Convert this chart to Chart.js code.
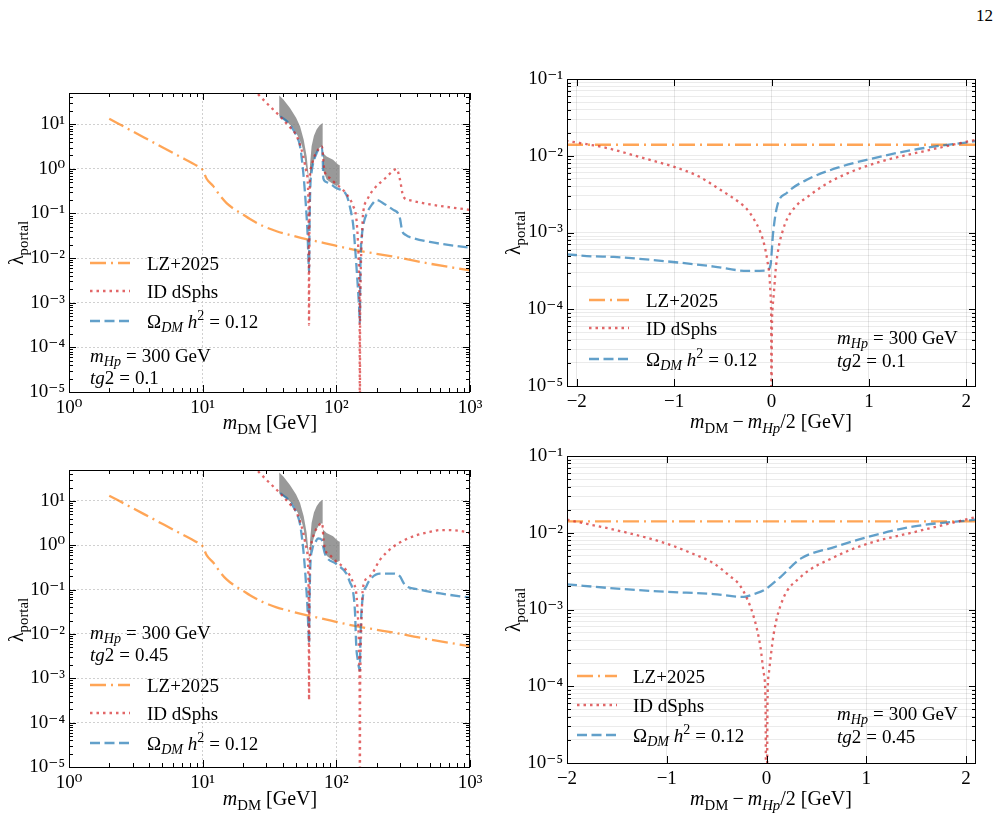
<!DOCTYPE html>
<html lang="en">
<head>
  <meta charset="UTF-8" />
  <title>Portal coupling limits</title>
  <script src="https://cdn.jsdelivr.net/npm/chart.js"></script>
  <style>
    body {
      margin: 0;
      background: #fff;
      font-family: "Liberation Serif", "DejaVu Serif", serif;
      color: #000;
    }
    #fig {
      position: relative;
      width: 1007px;
      height: 816px;
      overflow: hidden;
    }
    canvas { position: absolute; }
    .txt {
      position: absolute;
      font-size: 19px;
      line-height: 1;
      white-space: nowrap;
    }
    .ax { font-size: 20px; }
    .mid { transform: translate(-50%, -50%); }
    .lft { transform: translateY(-50%); }
    .rot { transform: translate(-50%, -50%) rotate(-90deg); }
    sub { font-size: 0.74em; vertical-align: -0.32em; line-height: 0; }
    sup { font-size: 0.74em; vertical-align: 0.5em; line-height: 0; }
    .eq { margin: 0 5px; }
    .op { margin: 0 4px; }
    .key { position: absolute; }
  </style>
</head>
<body>
<div id="fig">
  <div class="txt" style="left:976px; top:7px; font-size:17px;">12</div>

  <canvas id="p1" width="490" height="380" style="left:0; top:60px;"></canvas>
  <canvas id="p2" width="517" height="380" style="left:490px; top:60px;"></canvas>
  <canvas id="p3" width="490" height="376" style="left:0; top:440px;"></canvas>
  <canvas id="p4" width="517" height="376" style="left:490px; top:440px;"></canvas>

  <!-- axis titles -->
  <div class="txt ax mid" style="left:270px; top:422px;"><i>m</i><sub>DM</sub> [GeV]</div>
  <div class="txt ax mid" style="left:270px; top:798px;"><i>m</i><sub>DM</sub> [GeV]</div>
  <div class="txt ax mid" style="left:771px; top:421px;"><i>m</i><sub>DM</sub><span class="op">−</span><i>m</i><sub><i>Hp</i></sub>/2 [GeV]</div>
  <div class="txt ax mid" style="left:771px; top:798px;"><i>m</i><sub>DM</sub><span class="op">−</span><i>m</i><sub><i>Hp</i></sub>/2 [GeV]</div>
  <div class="txt ax rot" style="left:16px; top:243px;">λ<sub>portal</sub></div>
  <div class="txt ax rot" style="left:16px; top:620px;">λ<sub>portal</sub></div>
  <div class="txt ax rot" style="left:513px; top:233px;">λ<sub>portal</sub></div>
  <div class="txt ax rot" style="left:513px; top:610px;">λ<sub>portal</sub></div>

  <!-- benchmark labels -->
  <div class="txt lft" style="left:90px; top:355px;"><i>m</i><sub><i>Hp</i></sub><span class="eq">=</span>300 GeV</div>
  <div class="txt lft" style="left:90px; top:377px;"><i>tg</i>2<span class="eq">=</span>0.1</div>
  <div class="txt lft" style="left:837px; top:337px;"><i>m</i><sub><i>Hp</i></sub><span class="eq">=</span>300 GeV</div>
  <div class="txt lft" style="left:837px; top:360px;"><i>tg</i>2<span class="eq">=</span>0.1</div>
  <div class="txt lft" style="left:90px; top:632px;"><i>m</i><sub><i>Hp</i></sub><span class="eq">=</span>300 GeV</div>
  <div class="txt lft" style="left:90px; top:654px;"><i>tg</i>2<span class="eq">=</span>0.45</div>
  <div class="txt lft" style="left:837px; top:713px;"><i>m</i><sub><i>Hp</i></sub><span class="eq">=</span>300 GeV</div>
  <div class="txt lft" style="left:837px; top:736px;"><i>tg</i>2<span class="eq">=</span>0.45</div>
</div>

<script>
  // ---- tick values ----
  const leftXMajor = [1, 10, 100, 1000];
  const leftYMajor = [1e-5, 1e-4, 1e-3, 1e-2, 1e-1, 1, 10];
  const rightXMajor = [-2, -1, 0, 1, 2];
  const rightYMajor = [1e-5, 1e-4, 1e-3, 1e-2, 1e-1];

  // ---- left panels: m_DM [GeV] vs lambda ----
  const lzMass   = [2, 3, 4.5, 6.5, 9.5, 10, 10.7, 12, 13.5, 15.1, 16.9, 20, 22.6, 28, 35.7, 45, 61.7, 80, 106, 150, 200, 300, 500, 1000];
  const lzLambda = [13.2, 6.9, 3.6, 2.0, 1.07, 0.95, 0.6, 0.41, 0.25, 0.17, 0.13, 0.095, 0.075, 0.053, 0.04, 0.033, 0.026, 0.022, 0.018, 0.0145, 0.0125, 0.0101, 0.0075, 0.0053];

  // tg2 = 0.1
  const idMassA   = [24, 30, 37.9, 45, 49, 53.5, 56.6, 59.2, 61.7, 62.2, 62.5, 62.8, 63.3, 65, 67.2, 70, 73.2, 77.7, 79, 79.8, 82, 89.6, 100, 112, 125, 134, 141, 145, 147, 148.5, 149.5, 150, 150.5, 151.5, 153, 155, 158, 170, 189, 230, 274, 282, 299, 317, 350, 501, 1000];
  const idLambdaA = [60, 30, 15, 8.5, 6.4, 3.5, 1.9, 0.96, 0.25, 0.02, 3.2e-4, 0.02, 0.5, 1.1, 1.6, 2.2, 2.7, 3.2, 2.6, 1.6, 0.85, 0.62, 0.45, 0.34, 0.22, 0.145, 0.08, 0.025, 0.009, 0.002, 2e-4, 1e-7, 2e-4, 0.002, 0.009, 0.025, 0.087, 0.2, 0.34, 0.6, 0.96, 1.0, 0.58, 0.24, 0.2, 0.16, 0.12];
  const omegaMassA   = [38, 43.7, 50.5, 53.5, 56.6, 59.2, 60.8, 62, 62.5, 63, 63.8, 65.5, 67.2, 71, 75.4, 78, 79.2, 80, 85, 100, 119, 126, 134, 138, 143, 148, 150, 151, 153, 155, 160, 169, 185, 200, 224, 267, 290, 300, 310, 330, 376, 500, 1000];
  const omegaLambdaA = [15, 10.7, 5.4, 3.2, 0.81, 0.15, 0.04, 0.008, 0.005, 0.05, 0.35, 0.9, 1.36, 2.2, 3.0, 3.1, 1.5, 0.6, 0.5, 0.37, 0.26, 0.145, 0.052, 0.018, 0.004, 0.0008, 3.5e-4, 0.004, 0.018, 0.031, 0.06, 0.1, 0.16, 0.2, 0.17, 0.12, 0.1, 0.075, 0.042, 0.033, 0.028, 0.023, 0.017];

  // tg2 = 0.45
  const idMassB   = [24, 30, 37.9, 45, 49, 53.5, 56.6, 59.2, 61.7, 62.2, 62.5, 62.8, 63.3, 65, 67.2, 70, 73.2, 77.7, 79, 79.8, 82, 89.6, 100, 112, 125, 134, 141, 145, 147, 148.5, 149.5, 150, 150.5, 151.5, 153, 155, 158, 178, 212, 267, 330, 400, 500, 596, 700, 850, 1000];
  const idLambdaB = [60, 30, 15, 8.5, 6.4, 3.5, 1.9, 0.96, 0.25, 0.02, 3.2e-4, 0.02, 0.5, 1.1, 1.6, 2.2, 2.7, 3.2, 2.6, 1.6, 0.85, 0.6, 0.43, 0.33, 0.22, 0.14, 0.083, 0.025, 0.009, 0.002, 2e-4, 1e-7, 2e-4, 0.002, 0.009, 0.03, 0.11, 0.2, 0.47, 0.93, 1.35, 1.7, 2.0, 2.2, 2.2, 2.1, 1.9];
  const omegaMassB   = [38, 43.7, 50.5, 53.5, 56.6, 59.2, 60.8, 62, 62.5, 63, 63.8, 66, 70, 73, 76, 78, 80, 82, 100, 119, 126, 134, 138, 141, 145, 148, 150, 151, 153, 158, 168, 178, 212, 267, 299, 315, 326, 422, 600, 1000];
  const omegaLambdaB = [15, 10.7, 5.3, 3.0, 0.8, 0.15, 0.04, 0.01, 0.006, 0.05, 0.3, 0.8, 1.2, 1.44, 1.4, 1.3, 0.9, 0.66, 0.38, 0.23, 0.15, 0.083, 0.03, 0.0052, 0.0025, 0.0017, 0.0015, 0.005, 0.02, 0.07, 0.12, 0.166, 0.23, 0.23, 0.2, 0.15, 0.128, 0.1, 0.082, 0.066];

  // grey band outline (upper edge left to right, then lower edge back)
  const bandMass   = [37.4, 40, 45, 50, 53.5, 57, 60, 61.5, 62.5, 63.5, 65.3, 68, 71.2, 75, 79, 79, 84.6, 94.5, 103, 106, 106, 100, 92, 84.6, 80, 79.2, 75, 71.2, 68, 65.3, 63.5, 62.5, 61.5, 59.2, 57, 55, 50, 47.6, 43, 37.4];
  const bandLambda = [44, 36, 23, 14, 9, 4.5, 1.9, 0.9, 0.49, 1.2, 3.2, 5.5, 7.6, 9.5, 10.7, 2.3, 1.9, 1.6, 1.25, 1.2, 0.45, 0.41, 0.48, 0.58, 0.9, 3.2, 3.0, 2.3, 1.5, 0.96, 0.6, 0.49, 0.7, 1.14, 2.3, 3.5, 6.5, 8.3, 11, 15];

  // ---- right panels: m_DM - m_Hp/2 [GeV] vs lambda ----
  const lzOffsetC = [-2.1, -1, 0, 1, 2.1];
  const lzLambdaC = [0.0139, 0.0139, 0.0139, 0.0139, 0.0139];
  const idOffsetC = [-2.11, -1.69, -1.3, -1.006, -0.75, -0.525, -0.337, -0.25, -0.182, -0.113, -0.07, -0.044, -0.02, -0.008, -0.003, 0, 0.003, 0.01, 0.024, 0.045, 0.075, 0.11, 0.16, 0.25, 0.368, 0.55, 0.78, 1.122, 1.637, 2.1];
  const idLambdaC = [0.0157, 0.0126, 0.0092, 0.0072, 0.0054, 0.0036, 0.0025, 0.002, 0.0015, 0.001, 6.6e-4, 4.4e-4, 2.6e-4, 1.4e-4, 6e-5, 1e-7, 3e-5, 1e-4, 1.6e-4, 3.5e-4, 6.6e-4, 0.001, 0.0015, 0.0022, 0.0029, 0.0042, 0.0059, 0.0084, 0.012, 0.0162];
  const omegaOffsetC = [-2.1, -1.85, -1.62, -1.07, -0.59, -0.25, -0.045, -0.01, 0.017, 0.058, 0.16, 0.368, 0.712, 0.986, 1.466, 2.1];
  const omegaLambdaC = [5.2e-4, 4.9e-4, 4.8e-4, 4.2e-4, 3.6e-4, 3.16e-4, 3.2e-4, 3.8e-4, 1e-3, 0.0022, 0.0033, 0.0049, 0.0072, 0.0089, 0.012, 0.0155];

  const lzOffsetD = [-2, -1, 0, 1, 2.1];
  const lzLambdaD = [0.0141, 0.0141, 0.0141, 0.0141, 0.0141];
  const idOffsetD = [-2, -1.368, -1, -0.75, -0.53, -0.38, -0.26, -0.128, -0.06, -0.027, -0.01, 0, 0.01, 0.023, 0.073, 0.158, 0.342, 0.677, 1.013, 1.482, 2.1];
  const idLambdaD = [0.0148, 0.0098, 0.0072, 0.0054, 0.004, 0.0028, 0.002, 8e-4, 3.2e-4, 1.46e-4, 6e-5, 1e-7, 6e-5, 1.46e-4, 4.9e-4, 0.0013, 0.00265, 0.0048, 0.0072, 0.0102, 0.016];
  const omegaOffsetD = [-2, -1.5, -1, -0.53, -0.228, -0.12, -0.027, 0.14, 0.342, 0.68, 1.013, 1.48, 2.1];
  const omegaLambdaD = [0.00213, 0.00187, 0.0017, 0.00159, 0.00146, 0.0016, 0.00178, 0.00265, 0.0046, 0.0065, 0.0088, 0.0121, 0.0148];

  // ---- styles ----
  const ORANGE = 'rgba(255,127,14,0.7)';
  const RED = 'rgba(214,39,40,0.7)';
  const BLUE = 'rgba(31,119,180,0.7)';
  const GREY = 'rgba(128,128,128,0.8)';
  const DASHDOT = [16, 5, 2, 5];
  const DOTTED = [2.5, 4];
  const DASHED = [10, 4.5];
  const LW = 2.3;
  const FONT = { family: '"Liberation Serif", "DejaVu Serif", serif', size: 19 };

  const SUP = { '-': '⁻', '0': '⁰', '1': '¹', '2': '²', '3': '³', '4': '⁴', '5': '⁵' };
  function powLabel(v) {
    const e = Math.round(Math.log10(v));
    return '10' + String(e).split('').map(c => SUP[c]).join('');
  }

  // majors plus 2..9 minors, up to max
  function logTicks(majors, max) {
    const out = [];
    majors.forEach(m => {
      for (let k = 1; k < 10; k++) {
        const v = m * k;
        if (v <= max * 1.0001) out.push({ value: v, major: k === 1 });
      }
    });
    return out;
  }

  function pts(xs, ys) {
    return xs.map((x, i) => ({ x: x, y: ys[i] }));
  }

  function curve(xs, ys, color, dash) {
    return {
      data: pts(xs, ys),
      borderColor: color,
      borderWidth: LW,
      borderDash: dash,
      borderCapStyle: 'butt',
      pointRadius: 0,
      fill: false,
      cubicInterpolationMode: 'monotone'
    };
  }

  function band(xs, ys) {
    return {
      data: pts(xs, ys),
      borderColor: 'rgba(0,0,0,0)',
      borderWidth: 0,
      backgroundColor: GREY,
      pointRadius: 0,
      tension: 0,
      fill: 'shape'
    };
  }

  // frame + inward ticks on all four sides
  const frameTicks = {
    id: 'frameTicks',
    afterDraw(chart) {
      const { ctx, chartArea: a, scales } = chart;
      ctx.save();
      ctx.strokeStyle = '#000';
      ctx.lineWidth = 1;
      ctx.setLineDash([]);
      ctx.beginPath();
      scales.x.ticks.forEach(t => {
        const px = Math.round(scales.x.getPixelForValue(t.value)) + 0.5;
        if (px < a.left - 1 || px > a.right + 1) return;
        const len = t.major ? 7 : 4;
        ctx.moveTo(px, a.bottom); ctx.lineTo(px, a.bottom - len);
        ctx.moveTo(px, a.top); ctx.lineTo(px, a.top + len);
      });
      scales.y.ticks.forEach(t => {
        const py = Math.round(scales.y.getPixelForValue(t.value)) + 0.5;
        if (py < a.top - 1 || py > a.bottom + 1) return;
        const len = t.major ? 7 : 4;
        ctx.moveTo(a.left, py); ctx.lineTo(a.left + len, py);
        ctx.moveTo(a.right, py); ctx.lineTo(a.right - len, py);
      });
      ctx.stroke();
      ctx.strokeRect(Math.round(a.left) + 0.5, Math.round(a.top) + 0.5, Math.round(a.width) - 1, Math.round(a.height));
      ctx.restore();
    }
  };

  function leftPanel(id, datasets, padTop, xHeight) {
    new Chart(document.getElementById(id), {
      type: 'line',
      data: { datasets: datasets },
      options: {
        responsive: false,
        animation: false,
        events: [],
        layout: { padding: { top: padTop, right: 20, left: 0, bottom: 0 } },
        scales: {
          x: {
            type: 'logarithmic', min: 1, max: 1000,
            afterFit: s => { s.height = xHeight; },
            afterBuildTicks: s => { s.ticks = logTicks(leftXMajor, 1000); },
            ticks: { autoSkip: false, maxRotation: 0, padding: 5, color: '#000', font: FONT,
                     callback: (v, i, t) => t[i].major ? powLabel(v) : '' },
            grid: { drawTicks: false, lineWidth: 0.8,
                    color: c => (c.tick && c.tick.major) ? '#c4c4c4' : 'rgba(0,0,0,0)' },
            border: { display: false, dash: [2, 2] }
          },
          y: {
            type: 'logarithmic', min: 1e-5, max: 50,
            afterFit: s => { s.width = 69; },
            afterBuildTicks: s => { s.ticks = logTicks(leftYMajor, 50); },
            ticks: { autoSkip: false, padding: 4, color: '#000', font: FONT,
                     callback: (v, i, t) => t[i].major ? powLabel(v) : '' },
            grid: { drawTicks: false, lineWidth: 0.8,
                    color: c => (c.tick && c.tick.major) ? '#c4c4c4' : 'rgba(0,0,0,0)' },
            border: { display: false, dash: [2, 2] }
          }
        },
        plugins: { legend: { display: false }, tooltip: { enabled: false } }
      },
      plugins: [frameTicks]
    });
  }

  function rightPanel(id, datasets, xMin, padTop, xHeight) {
    new Chart(document.getElementById(id), {
      type: 'line',
      data: { datasets: datasets },
      options: {
        responsive: false,
        animation: false,
        events: [],
        layout: { padding: { top: padTop, right: 31, left: 0, bottom: 0 } },
        scales: {
          x: {
            type: 'linear', min: xMin, max: 2.1,
            afterFit: s => { s.height = xHeight; },
            afterBuildTicks: s => { s.ticks = rightXMajor.map(v => ({ value: v, major: true })); },
            ticks: { autoSkip: false, maxRotation: 0, padding: 5, color: '#000', font: FONT,
                     callback: v => v < 0 ? '−' + Math.abs(v) : String(v) },
            grid: { drawTicks: false, lineWidth: 0.8, color: 'rgba(0,0,0,0.12)' },
            border: { display: false }
          },
          y: {
            type: 'logarithmic', min: 1e-5, max: 0.1,
            afterFit: s => { s.width = 77; },
            afterBuildTicks: s => { s.ticks = logTicks(rightYMajor, 0.1); },
            ticks: { autoSkip: false, padding: 4, color: '#000', font: FONT,
                     callback: (v, i, t) => t[i].major ? powLabel(v) : '' },
            grid: { drawTicks: false, lineWidth: 0.8, color: 'rgba(0,0,0,0.1)' },
            border: { display: false }
          }
        },
        plugins: { legend: { display: false }, tooltip: { enabled: false } }
      },
      plugins: [frameTicks]
    });
  }

  // first dataset is drawn on top, so the band goes last
  leftPanel('p1', [
    curve(idMassA, idLambdaA, RED, DOTTED),
    curve(omegaMassA, omegaLambdaA, BLUE, DASHED),
    curve(lzMass, lzLambda, ORANGE, DASHDOT),
    band(bandMass, bandLambda)
  ], 33, 48);

  leftPanel('p3', [
    curve(idMassB, idLambdaB, RED, DOTTED),
    curve(omegaMassB, omegaLambdaB, BLUE, DASHED),
    curve(lzMass, lzLambda, ORANGE, DASHDOT),
    band(bandMass, bandLambda)
  ], 30, 49);

  rightPanel('p2', [
    curve(idOffsetC, idLambdaC, RED, DOTTED),
    curve(omegaOffsetC, omegaLambdaC, BLUE, DASHED),
    curve(lzOffsetC, lzLambdaC, ORANGE, DASHDOT)
  ], -2.1, 19, 54);

  rightPanel('p4', [
    curve(idOffsetD, idLambdaD, RED, DOTTED),
    curve(omegaOffsetD, omegaLambdaD, BLUE, DASHED),
    curve(lzOffsetD, lzLambdaD, ORANGE, DASHDOT)
  ], -2.0, 16, 53);

  // legends: line sample + label, placed like the matplotlib legend boxes
  const legendNames = ['LZ+2025', 'ID dSphs', 'Ω<sub><i>DM</i></sub> <i>h</i><sup>2</sup><span class="eq">=</span>0.12'];
  const legendColors = [ORANGE, RED, BLUE];
  const legendDashes = [DASHDOT, DOTTED, DASHED];
  const legendSpots = [
    { x: 90, tx: 147, ys: [263, 291, 321] },
    { x: 589, tx: 646, ys: [300, 328, 359] },
    { x: 90, tx: 147, ys: [685, 713, 743] },
    { x: 577, tx: 633, ys: [676, 705, 735] }
  ];
  const fig = document.getElementById('fig');
  legendSpots.forEach(spot => {
    spot.ys.forEach((y, i) => {
      const key = document.createElementNS('http://www.w3.org/2000/svg', 'svg');
      key.setAttribute('width', '40');
      key.setAttribute('height', '6');
      key.setAttribute('class', 'key');
      key.style.left = spot.x + 'px';
      key.style.top = (y - 3) + 'px';
      key.innerHTML = '<line x1="0" y1="3" x2="40" y2="3" stroke="' + legendColors[i] +
        '" stroke-width="' + LW + '" stroke-dasharray="' + legendDashes[i].join(',') + '"/>';
      fig.appendChild(key);
      const label = document.createElement('div');
      label.className = 'txt lft';
      label.style.left = spot.tx + 'px';
      label.style.top = y + 'px';
      label.innerHTML = legendNames[i];
      fig.appendChild(label);
    });
  });
</script>
</body>
</html>
